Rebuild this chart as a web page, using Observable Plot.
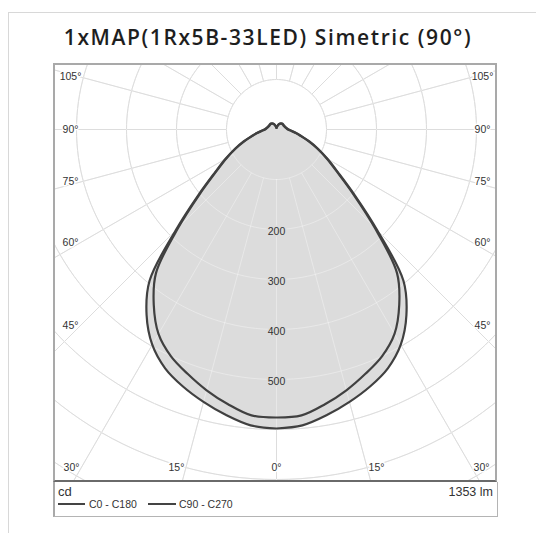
<!DOCTYPE html>
<html><head><meta charset="utf-8">
<script src="https://cdn.jsdelivr.net/npm/d3@7"></script>
<script src="https://cdn.jsdelivr.net/npm/@observablehq/plot@0.6"></script>
<style>
body{margin:0;background:#fff;font-family:"Liberation Sans",Arial,sans-serif;width:536px;height:533px;overflow:hidden;position:relative;}
#card{position:absolute;left:8px;top:12px;width:600px;height:600px;border:1px solid #d8d8d8;}
#title{position:absolute;left:0;top:23px;width:536px;text-align:center;font-family:"Open Sans",sans-serif;font-weight:600;font-size:21px;letter-spacing:1.6px;color:#1e1e1e;line-height:28px;}
#box{position:absolute;left:53px;top:63px;width:440px;height:415px;border:2px solid #a9a9a9;border-bottom-color:#6a6a6a;}
#box svg{display:block;}
#legend{position:absolute;left:53px;top:482px;width:442px;height:34px;border:1px solid #b4b4b4;border-top:none;border-left:2px solid #a9a9a9;}
.lg{position:absolute;color:#333;white-space:nowrap;}
.ln{position:absolute;height:2px;background:#444;}
</style></head>
<body>
<div id="card"></div>
<div id="title"></div>
<div id="box"></div>
<div id="legend"></div>
<script>
// ---- data ----
const titleText = "1xMAP(1Rx5B-33LED) Simetric (90°)";
const unitText = "cd";
const fluxText = "1353 lm";
const seriesNames = ["C0 - C180", "C90 - C270"];
const gammas = [0,5,10,15,20,25,30,35,40,45,50,55,60,65,70,75,80,85,90,100,110,120,130,140,150,160,170,180];
const c0c180 = [576,574,558,540,520,500,472,428,375,278,200,148,116,90,68,50,38,29,23,19,17,16,16,15,13,9,5,3];
const c90c270 = [598,594,580,564,547,527,497,453,395,285,204,151,118,92,70,52,40,30,24,20,18,17,17,16,14,10,6,3];
const ringLabels = [200,300,400,500];
const gridRadii = [100,200,300,400,500,600,700,800,900];
const spokeAngles = [0,15,30,45,60,75,90,105,120,135,150,165,180,195,210,225,240,255,270,285,300,315,330,345];
const sideLabelAngles = [105,90,75,60,45];
const bottomLabelAngles = [30,15,0];

document.getElementById("title").textContent = titleText;

const rad = d => d*Math.PI/180;
function closedCurve(vals, name){
  const pts = [];
  gammas.forEach((g,i)=>pts.push({s:name, x: vals[i]*Math.sin(rad(g)), y: -vals[i]*Math.cos(rad(g))}));
  for(let i=gammas.length-2;i>=0;i--){ const g=gammas[i]; pts.push({s:name, x:-vals[i]*Math.sin(rad(g)), y:-vals[i]*Math.cos(rad(g))}); }
  return pts;
}
const curveA = closedCurve(c0c180, seriesNames[0]);
const curveB = closedCurve(c90c270, seriesNames[1]);

const circlePts = [];
gridRadii.forEach(r=>{ for(let a=0;a<=360;a+=2) circlePts.push({r, x:r*Math.sin(rad(a)), y:-r*Math.cos(rad(a))}); });

// label positions: where the ray meets an inset frame
const sideLabels = [];
sideLabelAngles.forEach(a=>{ [1,-1].forEach(s=>{
  const xr = 412; const y = -xr*Math.cos(rad(a))/Math.sin(rad(a)) * 0.95;
  sideLabels.push({x:s*xr, y, t:a+"°"});
});});
const bottomLabels = [];
bottomLabelAngles.forEach(a=>{ (a===0?[1]:[1,-1]).forEach(s=>{
  let x = 702*Math.tan(rad(a)) + (a?12:0); x = Math.min(x, 410);
  bottomLabels.push({x:s*x, y:-676, t:a+"°"});
});});

const gridStroke = "#cbcbcb";
const gridMarks = (stroke, op) => [
  Plot.line(circlePts, {x:"x", y:"y", z:"r", stroke, strokeOpacity:op, strokeWidth:1, clip:true}),
  Plot.link(spokeAngles, {x1:a=>100*Math.sin(rad(a)), y1:a=>-100*Math.cos(rad(a)), x2:a=>1300*Math.sin(rad(a)), y2:a=>-1300*Math.cos(rad(a)), stroke, strokeOpacity:op, strokeWidth:1, clip:true})
];

const chart = Plot.plot({
  width:440, height:415, margin:0,
  x:{domain:[-442,438], axis:null},
  y:{domain:[-702,128], axis:null},
  style:{background:"transparent", fontFamily:"Liberation Sans, Arial, sans-serif"},
  marks:[
    ...gridMarks(gridStroke, 1),
    Plot.line(curveB, {x:"x", y:"y", fill:"#dcdcdc", stroke:"none", curve:"catmull-rom"}),
    Plot.line(curveA, {x:"x", y:"y", fill:"#dcdcdc", stroke:"none", curve:"catmull-rom"}),
    ...gridMarks("white", 0.35),
    Plot.line(curveB, {x:"x", y:"y", stroke:"#404040", strokeWidth:2.2, curve:"catmull-rom"}),
    Plot.line(curveA, {x:"x", y:"y", stroke:"#404040", strokeWidth:2.2, curve:"catmull-rom"}),
    Plot.text(ringLabels, {x:0, y:d=>-d, dy:2, text:d=>String(d), fontSize:10.5, fill:"#333", stroke:"#dcdcdc", strokeWidth:3}),
    Plot.text(sideLabels, {x:"x", y:"y", text:"t", fontSize:10.5, fill:"#333", stroke:"white", strokeWidth:3}),
    Plot.text(bottomLabels, {x:"x", y:"y", text:"t", fontSize:10.5, fill:"#333", stroke:"white", strokeWidth:3})
  ]
});
document.getElementById("box").appendChild(chart);

const lg = document.getElementById("legend");
lg.innerHTML = `
<span class="lg" style="left:3px;top:2px;font-size:13px;">${unitText}</span>
<span class="lg" style="right:4px;top:3px;font-size:12.5px;">${fluxText}</span>
<div class="ln" style="left:3px;top:21px;width:27px;"></div>
<span class="lg" style="left:34px;top:16px;font-size:10.5px;">${seriesNames[0]}</span>
<div class="ln" style="left:93px;top:21px;width:28px;"></div>
<span class="lg" style="left:124px;top:16px;font-size:10.5px;">${seriesNames[1]}</span>`;
</script>
</body></html>
